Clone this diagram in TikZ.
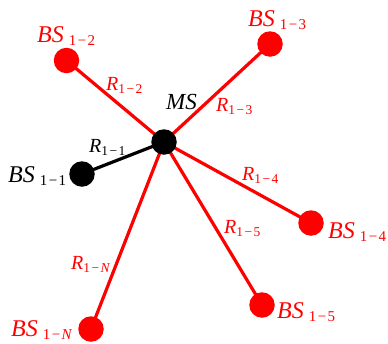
\documentclass[tikz,border=0pt]{standalone}
\usepackage{fontspec}
\setmainfont{Liberation Serif}
\usetikzlibrary{backgrounds}
\newcommand\bslab[1]{{\fontsize{24}{24}\selectfont\itshape BS}\kern5pt\raisebox{-3.5pt}{\fontsize{15}{15}\selectfont #1}}
\newcommand\rlab[1]{{\fontsize{20}{20}\selectfont\itshape R}\raisebox{-3.3pt}{\fontsize{13.5}{13.5}\selectfont #1}}
\newcommand\idx[1]{1\kern1.4pt−\kern1.4pt#1}
\begin{document}
\begin{tikzpicture}[x=1pt,y=-1pt,
  dot/.style={circle,fill=#1,minimum size=25.5pt,inner sep=0pt},
  link/.style={draw=#1,line width=3.2pt},
  lab/.style={anchor=base west,inner sep=0pt,text=#1}]
\useasboundingbox (0,0) rectangle (388,343);
% nodes
\node[dot=black] (ms) at (164,142) {};
\node[dot=black] (bs1) at (82,174) {};
\node[dot=red] (bs2) at (66.5,60.5) {};
\node[dot=red] (bs3) at (270,44) {};
\node[dot=red] (bs4) at (311,223) {};
\node[dot=red] (bs5) at (262,305) {};
\node[dot=red] (bsN) at (91,329) {};
% links
\begin{scope}[on background layer]
\path[link=black] (ms.center) -- (bs1.center);
\path[link=red] (ms.center) -- (bs2.center);
\path[link=red] (ms.center) -- (bs3.center);
\path[link=red] (ms.center) -- (bs4.center);
\path[link=red] (ms.center) -- (bs5.center);
\path[link=red] (ms.center) -- (bsN.center);
\end{scope}
% labels
\node[lab=black] (lms) at (166,109) {\fontsize{23}{23}\selectfont\itshape MS};
\node[lab=black] (lbs1) at (8,182) {\bslab{\idx{1}}};
\node[lab=red] (lbs2) at (37,42) {\bslab{\idx{2}}};
\node[lab=red] (lbs3) at (248,26) {\bslab{\idx{3}}};
\node[lab=red] (lbs4) at (328,238) {\bslab{\idx{4}}};
\node[lab=red] (lbs5) at (277,318) {\bslab{\idx{5}}};
\node[lab=red] (lbsN) at (11,336) {\bslab{\idx{\textit{N}}}};
\node[lab=black] (r1) at (89,152) {\rlab{\idx{1}}};
\node[lab=red] (r2) at (106,90) {\rlab{\idx{2}}};
\node[lab=red] (r3) at (216,111) {\rlab{\idx{3}}};
\node[lab=red] (r4) at (242,180) {\rlab{\idx{4}}};
\node[lab=red] (r5) at (224,233) {\rlab{\idx{5}}};
\node[lab=red] (rN) at (71,269) {\rlab{\idx{\textit{N}}}};
\end{tikzpicture}
\end{document}
